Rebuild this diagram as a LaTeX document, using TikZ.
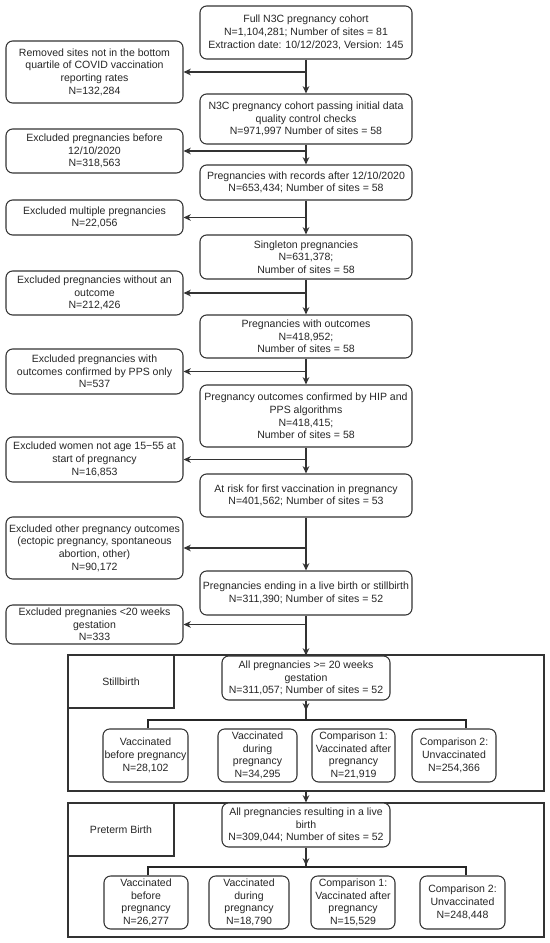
\documentclass[tikz,border=0pt]{standalone}
\usepackage{fontspec}
\setmainfont{Liberation Sans}
\usetikzlibrary{arrows.meta}
\definecolor{lncol}{HTML}{333333}
\definecolor{txcol}{HTML}{262626}
\tikzset{
  sz/.style 2 args={minimum width=#1*0.75pt, minimum height=#2*0.75pt},
  txt/.style={align=center, inner sep=0pt, text=txcol, font=\fontsize{7.9}{9.5}\selectfont},
  rbox/.style={txt, draw=lncol, line width=0.8pt, rounded corners=5pt, fill=white},
  sbox/.style={txt, draw=lncol, line width=0.8pt},
  arr/.style={draw=lncol, line width=0.8pt, -{Stealth[length=5.5pt,width=5pt]}},
  conn/.style={draw=lncol, line width=0.8pt},
  barline/.style={draw=black!85, line width=1.3pt},
}
\begin{document}
\begin{tikzpicture}[x=0.75pt, y=-0.75pt]
\useasboundingbox (0,0) rectangle (550,943);
\fill[white] (0,0) rectangle (550,943);

% main column
\node[rbox, sz={212}{53}] (m1) at (306,32.5) {Full N3C pregnancy cohort\\N=1,104,281; Number of sites = 81\\Extraction date: 10/12/2023, Version: 145};
\node[rbox, sz={212}{50}] (m2) at (306,119) {N3C pregnancy cohort passing initial data\\quality control checks\\N=971,997 Number of sites = 58};
\node[rbox, sz={212}{35}] (m3) at (306,182.5) {Pregnancies with records after 12/10/2020\\N=653,434; Number of sites = 58};
\node[rbox, sz={212}{44}] (m4) at (306,257) {Singleton pregnancies\\N=631,378;\\Number of sites = 58};
\node[rbox, sz={212}{43}] (m5) at (306,336.5) {Pregnancies with outcomes\\N=418,952;\\Number of sites = 58};
\node[rbox, sz={212}{62}] (m6) at (306,416) {Pregnancy outcomes confirmed by HIP and\\PPS algorithms\\N=418,415;\\Number of sites = 58};
\node[rbox, sz={212}{43}] (m7) at (306,495.5) {At risk for first vaccination in pregnancy\\N=401,562; Number of sites = 53};
\node[rbox, sz={212}{44}] (m8) at (306,593) {Pregnancies ending in a live birth or stillbirth\\N=311,390; Number of sites = 52};

% left exclusion column
\node[rbox, sz={177}{62}] (l1) at (94.5,72) {Removed sites not in the bottom\\quartile of COVID vaccination\\reporting rates\\N=132,284};
\node[rbox, sz={177}{44}] (l2) at (94.5,151) {Excluded pregnancies before\\12/10/2020\\N=318,563};
\node[rbox, sz={177}{35}] (l3) at (94.5,217.5) {Excluded multiple pregnancies\\N=22,056};
\node[rbox, sz={177}{44}] (l4) at (94.5,293) {Excluded pregnancies without an\\outcome\\N=212,426};
\node[rbox, sz={177}{45}] (l5) at (94.5,371.5) {Excluded pregnancies with\\outcomes confirmed by PPS only\\N=537};
\node[rbox, sz={177}{45}] (l6) at (94.5,459.5) {Excluded women not age 15−55 at\\start of pregnancy\\N=16,853};
\node[rbox, sz={177}{62}] (l7) at (94.5,548) {Excluded other pregnancy outcomes\\(ectopic pregnancy, spontaneous\\abortion, other)\\N=90,172};
\node[rbox, sz={177}{39}] (l8) at (94.5,624.5) {Excluded pregnanies <20 weeks\\gestation\\N=333};

% Stillbirth frame
\node[sbox, sz={476}{136}] (f1) at (306,723) {};
\node[sbox, sz={106}{53}] (f1lab) at (121,681.5) {Stillbirth};
\node[rbox, sz={168}{44}] (sb) at (306,678) {All pregnancies >= 20 weeks\\gestation\\N=311,057; Number of sites = 52};
\node[rbox, sz={85}{53}] (s1) at (145.5,755.5) {Vaccinated\\before pregnancy\\N=28,102};
\node[rbox, sz={79}{53}] (s2) at (257.5,755.5) {Vaccinated\\during\\pregnancy\\N=34,295};
\node[rbox, sz={83}{53}] (s3) at (353.5,755.5) {Comparison 1:\\Vaccinated after\\pregnancy\\N=21,919};
\node[rbox, sz={84}{53}] (s4) at (454,755.5) {Comparison 2:\\Unvaccinated\\N=254,366};

% Preterm frame
\node[sbox, sz={476}{134}] (f2) at (306,870) {};
\node[sbox, sz={106}{53}] (f2lab) at (121,829.5) {Preterm Birth};
\node[rbox, sz={168}{44}] (pt) at (306,825) {All pregnancies resulting in a live\\birth\\N=309,044; Number of sites = 52};
\node[rbox, sz={84}{53}] (p1) at (146,902.5) {Vaccinated\\before\\pregnancy\\N=26,277};
\node[rbox, sz={80}{53}] (p2) at (249,902.5) {Vaccinated\\during\\pregnancy\\N=18,790};
\node[rbox, sz={84}{53}] (p3) at (353,902.5) {Comparison 1:\\Vaccinated after\\pregnancy\\N=15,529};
\node[rbox, sz={85}{53}] (p4) at (462.5,902.5) {Comparison 2:\\Unvaccinated\\N=248,448};

% main flow
\draw[arr] (m1) -- (m2);
\draw[arr] (m2) -- (m3);
\draw[arr] (m3) -- (m4);
\draw[arr] (m4) -- (m5);
\draw[arr] (m5) -- (m6);
\draw[arr] (m6) -- (m7);
\draw[arr] (m7) -- (m8);
\draw[arr] (m8) -- (sb);

% exclusions
\coordinate (j1) at (m1.south |- l1.east);
\coordinate (j2) at (m2.south |- l2.east);
\coordinate (j3) at (m3.south |- l3.east);
\coordinate (j4) at (m4.south |- l4.east);
\coordinate (j5) at (m5.south |- l5.east);
\coordinate (j6) at (m6.south |- l6.east);
\coordinate (j7) at (m7.south |- l7.east);
\coordinate (j8) at (m8.south |- l8.east);
\draw[arr] (j1) -- (l1.east);
\draw[arr] (j2) -- (l2.east);
\draw[arr] (j3) -- (l3.east);
\draw[arr] (j4) -- (l4.east);
\draw[arr] (j5) -- (l5.east);
\draw[arr] (j6) -- (l6.east);
\draw[arr] (j7) -- (l7.east);
\draw[arr] (j8) -- (l8.east);

% stillbirth split
\coordinate (sbL) at (148,720);
\coordinate (sbR) at (466,720);
\draw[conn] (sb.south) -- (sb.south |- sbL);
\draw[arr] (sb.south) -- ++(0,10);
\draw[barline] (s1.north -| sbL) -- (sbL) -- (sbR) -- (s4.north -| sbR);

% between frames
\draw[arr] (f1.south) -- (f2.north);

% preterm split
\coordinate (ptL) at (148,867);
\coordinate (ptR) at (466,867);
\draw[conn] (pt.south) -- (pt.south |- ptL);
\draw[arr] (pt.south) -- ++(0,18);
\draw[barline] (p1.north -| ptL) -- (ptL) -- (ptR) -- (p4.north -| ptR);
\end{tikzpicture}
\end{document}
